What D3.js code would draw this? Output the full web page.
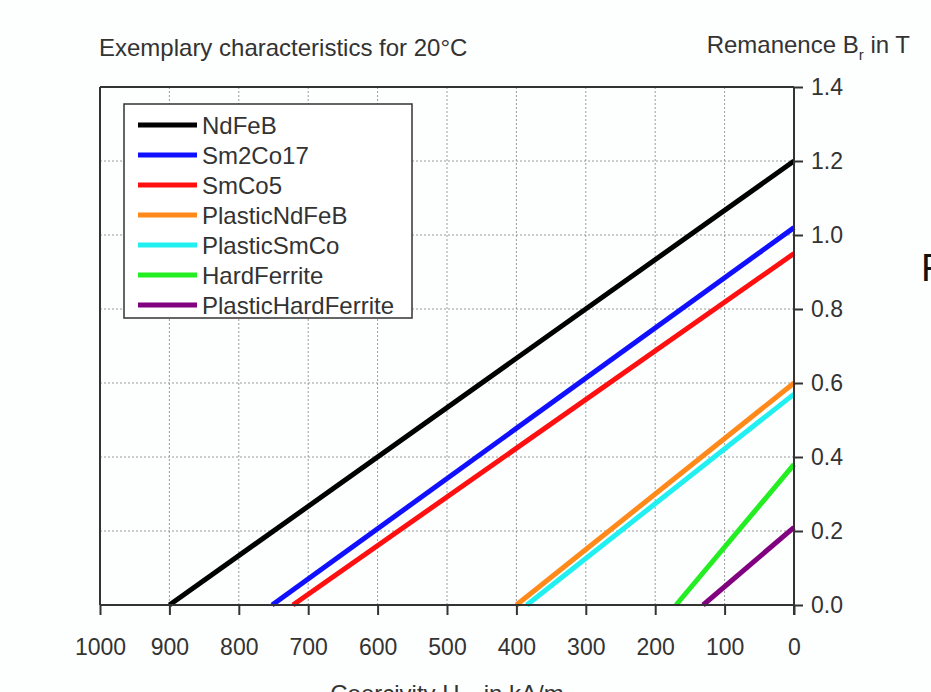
<!DOCTYPE html>
<html>
<head>
<meta charset="utf-8">
<script src="https://cdn.jsdelivr.net/npm/d3@7"></script>
<style>
  html, body { margin: 0; padding: 0; background: #fdfefe; }
  svg { display: block; font-family: "Liberation Sans", Arial, sans-serif; }
</style>
</head>
<body>
<svg id="chart" width="931" height="692"></svg>
<script>
// ---- data ----
const materials = ["NdFeB", "Sm2Co17", "SmCo5", "PlasticNdFeB", "PlasticSmCo", "HardFerrite", "PlasticHardFerrite"];
const coercivity = [900, 752, 722, 400, 385, 170, 131];   // H_c in kA/m (B = 0)
const remanence  = [1.20, 1.02, 0.95, 0.60, 0.57, 0.38, 0.21]; // B_r in T (H = 0)
const colors = ["#000000", "#1010ff", "#ff1010", "#ff8a1a", "#22f0f0", "#22ee22", "#800080"];
const xTicks = [1000, 900, 800, 700, 600, 500, 400, 300, 200, 100, 0];
const yTicks = [0.0, 0.2, 0.4, 0.6, 0.8, 1.0, 1.2, 1.4];

// ---- layout ----
const L = 100, R = 794, T = 87, B = 605;
const svg = d3.select("#chart");
const x = d3.scaleLinear().domain([1000, 0]).range([L, R]);
const y = d3.scaleLinear().domain([0, 1.4]).range([B, T]);
const textCol = "#333";
const FONT = "Liberation Sans, Arial, sans-serif";

// grid
svg.append("g").selectAll("line.vg")
  .data(xTicks.filter(d => d !== 1000 && d !== 0)).join("line")
  .attr("x1", d => x(d)).attr("x2", d => x(d))
  .attr("y1", T).attr("y2", B)
  .attr("stroke", "#9a9a9a").attr("stroke-width", 1).attr("stroke-dasharray", "2,2");
svg.append("g").selectAll("line.hg")
  .data(yTicks.filter(d => d !== 0 && d !== 1.4)).join("line")
  .attr("x1", L).attr("x2", R)
  .attr("y1", d => y(d)).attr("y2", d => y(d))
  .attr("stroke", "#9a9a9a").attr("stroke-width", 1).attr("stroke-dasharray", "2,2");

// frame top & left
svg.append("line").attr("x1", L).attr("x2", R).attr("y1", T).attr("y2", T)
  .attr("stroke", textCol).attr("stroke-width", 2);
svg.append("line").attr("x1", L).attr("x2", L).attr("y1", T).attr("y2", B)
  .attr("stroke", textCol).attr("stroke-width", 2);

// data lines
const lineData = materials.map((m, i) => ({
  name: m, color: colors[i],
  pts: [[coercivity[i], 0], [0, remanence[i]]]
}));
const lineGen = d3.line().x(d => x(d[0])).y(d => y(d[1]));
svg.append("g").selectAll("path")
  .data(lineData).join("path")
  .attr("d", d => lineGen(d.pts))
  .attr("fill", "none").attr("stroke", d => d.color).attr("stroke-width", 5);

// axes
const xAxis = d3.axisBottom(x).tickValues(xTicks).tickSize(10).tickPadding(24).tickFormat(d3.format("d"));
const gx = svg.append("g").attr("transform", `translate(0,${B})`).call(xAxis);
gx.select(".domain").attr("stroke", textCol).attr("stroke-width", 2).attr("d", `M${L},0H${R}`);
gx.selectAll(".tick line").attr("stroke", textCol).attr("stroke-width", 2);
gx.selectAll(".tick text").attr("fill", textCol).attr("font-size", 23).attr("font-family", FONT);

const yAxis = d3.axisRight(y).tickValues(yTicks).tickSize(9).tickPadding(8).tickFormat(d3.format(".1f"));
const gy = svg.append("g").attr("transform", `translate(${R},0)`).call(yAxis);
gy.select(".domain").attr("stroke", textCol).attr("stroke-width", 2).attr("d", `M0,${T}V${B + 10}`);
gy.selectAll(".tick line").attr("stroke", textCol).attr("stroke-width", 2);
gy.selectAll(".tick text").attr("fill", textCol).attr("font-size", 23).attr("font-family", FONT);

// legend
const lg = svg.append("g");
lg.append("rect").attr("x", 124).attr("y", 104).attr("width", 288).attr("height", 214)
  .attr("fill", "#ffffff").attr("stroke", textCol).attr("stroke-width", 1.5);
const rows = lg.selectAll("g.row").data(lineData).join("g")
  .attr("transform", (d, i) => `translate(0,${125 + i * 30})`);
rows.append("line").attr("x1", 138).attr("x2", 197).attr("y1", 0).attr("y2", 0)
  .attr("stroke", d => d.color).attr("stroke-width", 5);
rows.append("text").attr("x", 202).attr("y", 0).attr("dy", "0.36em")
  .attr("font-size", 24).attr("fill", textCol).text(d => d.name);

// titles
svg.append("text").attr("x", 99).attr("y", 56).attr("font-size", 24).attr("fill", textCol)
  .text("Exemplary characteristics for 20°C");
const rt = svg.append("text").attr("x", 910).attr("y", 53).attr("text-anchor", "end")
  .attr("font-size", 24).attr("fill", textCol);
rt.append("tspan").text("Remanence B");
rt.append("tspan").attr("font-size", 15).attr("dy", 7).text("r");
rt.append("tspan").attr("dy", -7).text(" in T");

const xt = svg.append("text").attr("x", (L + R) / 2).attr("y", 702).attr("text-anchor", "middle")
  .attr("font-size", 24).attr("fill", textCol);
xt.append("tspan").text("Coercivity H");
xt.append("tspan").attr("font-size", 15).attr("dy", 7).text("cB");
xt.append("tspan").attr("dy", -7).text(" in kA/m");

// cut-off slide text at right edge
svg.append("text").attr("x", 921).attr("y", 281).attr("font-size", 38).attr("fill", "#111").text("F");
</script>
</body>
</html>
